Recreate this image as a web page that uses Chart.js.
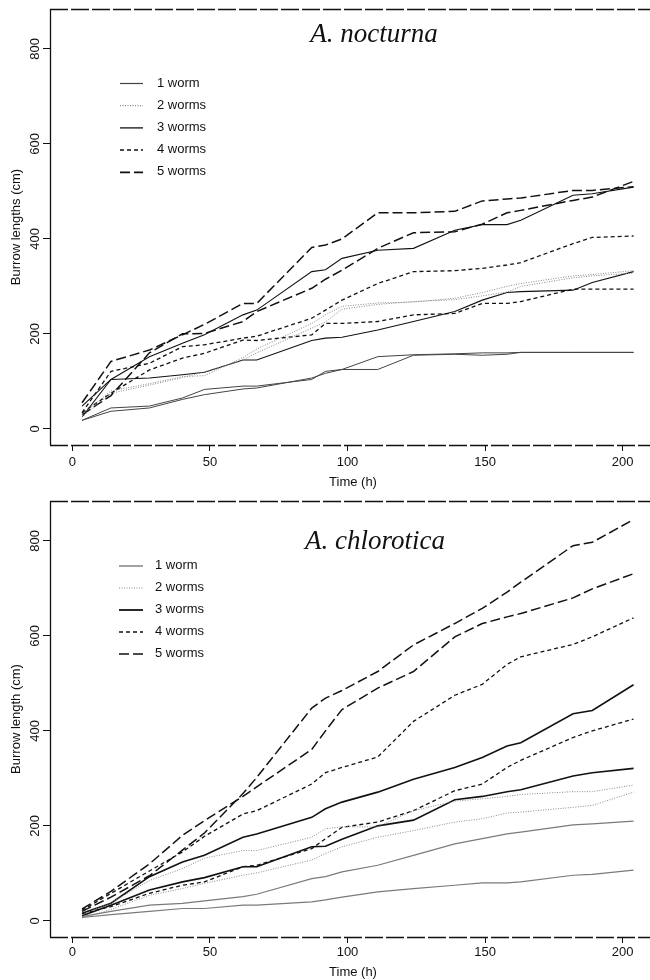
<!DOCTYPE html>
<html><head><meta charset="utf-8">
<script src="https://cdn.jsdelivr.net/npm/chart.js@4"></script>
<style>
html,body{margin:0;padding:0;background:#fff;overflow:hidden;width:650px;height:980px;position:relative}
.wrap{position:absolute;left:0;width:660px;height:490px}
</style></head><body>
<div class="wrap" style="top:0"><canvas id="c1" width="660" height="490"></canvas></div>
<div class="wrap" style="top:490px"><canvas id="c2" width="660" height="490"></canvas></div>
<script>
// ---- data ----
const timeH = [3.5,14,28,40,48,62,67,87,92,98,111,124,139,149,158,163,182,189,204];
const xTicks = [0,50,100,150,200];
const yTicks = [0,200,400,600,800];
const legendLabels = ['1 worm','2 worms','3 worms','4 worms','5 worms'];

// A. nocturna
const noc_1w_a = [18,44,48,65,83,90,90,104,121,125,125,155,157,155,157,161,161,161,161];
const noc_1w_b = [18,37,44,62,72,84,86,107,117,125,152,156,158,160,160,161,161,161,161];
const noc_2w_a = [30,80,95,110,112,150,168,222,240,258,265,267,275,287,300,306,322,325,333];
const noc_2w_b = [25,75,92,108,120,145,160,212,225,252,262,268,272,280,288,300,318,322,328];
const noc_3w_a = [25,104,107,114,119,145,145,186,191,193,208,226,247,271,287,289,292,308,331];
const noc_3w_b = [48,104,152,180,198,240,250,331,335,359,376,380,418,430,430,439,492,495,509];
const noc_4w_a = [34,121,138,173,177,191,195,233,250,271,306,331,333,338,345,350,390,403,406];
const noc_4w_b = [34,75,124,149,159,187,186,198,222,222,226,240,243,264,264,268,294,294,294];
const noc_5w_a = [55,142,166,198,220,264,264,382,387,400,455,455,458,480,484,486,502,502,510];
const noc_5w_b = [30,70,160,200,201,226,247,296,315,334,380,413,415,431,455,460,481,488,521];

// A. chlorotica
const chl_1w_a = [7,13,20,26,26,33,33,40,44,50,61,68,75,80,80,82,96,98,107];
const chl_1w_b = [9,20,33,37,42,51,56,89,93,103,117,138,162,173,183,187,202,204,210];
const chl_2w_a = [13,38,85,110,132,148,148,176,194,198,198,232,252,257,262,266,272,272,286];
const chl_2w_b = [6,24,54,68,79,96,101,128,142,156,176,190,208,215,227,229,239,243,271];
const chl_3w_a = [16,37,93,124,138,176,183,218,236,250,271,298,323,344,368,375,436,443,497];
const chl_3w_b = [11,33,65,82,91,114,114,156,157,172,200,212,255,262,272,276,305,312,321];
const chl_4w_a = [22,58,105,145,178,225,232,288,312,323,345,420,475,498,540,556,582,598,638];
const chl_4w_b = [15,30,58,75,82,114,117,152,173,197,208,232,274,288,323,338,386,400,425];
const chl_5w_a = [20,50,95,149,185,268,302,448,469,485,525,581,626,658,692,713,790,797,845];
const chl_5w_b = [25,62,120,180,211,262,282,361,400,445,490,525,598,626,640,647,680,699,731];

// ---- styles ----
const stylesNoc = [
  {color:'#444', width:1, dash:[]},
  {color:'#888', width:1, dash:[1,1.5]},
  {color:'#111', width:1.1, dash:[]},
  {color:'#111', width:1.3, dash:[4,3]},
  {color:'#111', width:1.5, dash:[10,4]}
];
const stylesChl = [
  {color:'#7a7a7a', width:1.2, dash:[]},
  {color:'#8a8a8a', width:1, dash:[1,1.5]},
  {color:'#111', width:1.6, dash:[]},
  {color:'#111', width:1.3, dash:[4,3]},
  {color:'#111', width:1.5, dash:[10,4]}
];

const FONT = "'Liberation Sans', Arial, sans-serif";

function makeChart(id, title, yTitle, groups, styles, opts) {
  const datasets = [];
  groups.forEach((pair, gi) => {
    pair.forEach(vals => {
      const s = styles[gi];
      datasets.push({
        label: legendLabels[gi],
        data: timeH.map((t, i) => ({x: t, y: vals[i]})),
        borderColor: s.color, borderWidth: s.width, borderDash: s.dash,
        pointRadius: 0, tension: 0, fill: false
      });
    });
  });
  const decor = {
    id: 'decor',
    afterDraw(chart) {
      const ctx = chart.ctx, a = chart.chartArea, ys = chart.scales.y;
      ctx.save();
      // frame
      ctx.strokeStyle = '#111'; ctx.lineWidth = 1.3;
      ctx.setLineDash([18, 3]);
      ctx.beginPath(); ctx.moveTo(a.left, a.top + 0.5); ctx.lineTo(a.right, a.top + 0.5); ctx.stroke();
      ctx.beginPath(); ctx.moveTo(a.left, a.bottom + 0.5); ctx.lineTo(a.right, a.bottom + 0.5); ctx.stroke();
      ctx.setLineDash([]);
      ctx.beginPath(); ctx.moveTo(a.left + 0.5, a.top); ctx.lineTo(a.left + 0.5, a.bottom); ctx.stroke();
      // rotated y tick labels
      ctx.fillStyle = '#111';
      ctx.font = '13px ' + FONT;
      ctx.textAlign = 'center'; ctx.textBaseline = 'middle';
      yTicks.forEach(v => {
        const py = ys.getPixelForValue(v);
        ctx.save(); ctx.translate(opts.yLabelX, py); ctx.rotate(-Math.PI / 2);
        ctx.fillText(String(v), 0, 0); ctx.restore();
      });
      // title
      ctx.font = 'italic 27px "Liberation Serif", "Times New Roman", serif';
      ctx.textAlign = 'center'; ctx.textBaseline = 'middle';
      ctx.fillText(title, opts.titleX, opts.titleY);
      // legend
      ctx.font = '13px ' + FONT;
      ctx.textAlign = 'left';
      legendLabels.forEach((lab, i) => {
        const s = styles[i];
        const y = opts.legY + i * opts.legStep;
        ctx.strokeStyle = s.color; ctx.lineWidth = s.width + 0.2; ctx.setLineDash(s.dash);
        ctx.beginPath(); ctx.moveTo(opts.legX0, y + 0.5); ctx.lineTo(opts.legX1, y + 0.5); ctx.stroke();
        ctx.setLineDash([]);
        ctx.fillStyle = '#111';
        ctx.fillText(lab, opts.legTextX, y);
      });
      ctx.restore();
    }
  };
  return new Chart(document.getElementById(id), {
    type: 'line',
    data: {datasets},
    options: {
      responsive: false, animation: false,
      layout: {padding: {top: opts.padTop, right: 4, left: 0, bottom: 0}},
      plugins: {legend: {display: false}, tooltip: {enabled: false}, title: {display: false}},
      scales: {
        x: {
          type: 'linear', min: -8.16, max: 212.16,
          afterBuildTicks: s => { s.ticks = xTicks.map(v => ({value: v})); },
          afterFit: s => { s.height = opts.xH; },
          grid: {display: true, drawOnChartArea: false, drawTicks: true, tickLength: 6, color: '#111', lineWidth: 1},
          border: {display: false},
          ticks: {color: '#111', font: {family: FONT, size: 13}, padding: opts.xPad, maxRotation: 0, autoSkip: false},
          title: {display: true, text: 'Time (h)', color: '#111', font: {family: FONT, size: 13}, padding: {top: 0, bottom: 0}}
        },
        y: {
          type: 'linear', min: -34, max: 884,
          afterBuildTicks: s => { s.ticks = yTicks.map(v => ({value: v})); },
          afterFit: s => { s.width = 50; },
          grid: {display: true, drawOnChartArea: false, drawTicks: true, tickLength: 7, color: '#111', lineWidth: 1},
          border: {display: false},
          ticks: {display: false},
          title: {display: true, text: yTitle, color: '#111', font: {family: FONT, size: 13}, padding: {top: 9, bottom: 0}}
        }
      }
    },
    plugins: [decor]
  });
}

makeChart('c1', 'A. nocturna', 'Burrow lengths (cm)',
  [[noc_1w_a, noc_1w_b], [noc_2w_a, noc_2w_b], [noc_3w_a, noc_3w_b], [noc_4w_a, noc_4w_b], [noc_5w_a, noc_5w_b]],
  stylesNoc,
  {padTop: 9, xH: 45, xPad: 4, yLabelX: 35, titleX: 374, titleY: 35, legY: 83, legStep: 22.2, legX0: 120, legX1: 143, legTextX: 157});

makeChart('c2', 'A. chlorotica', 'Burrow length (cm)',
  [[chl_1w_a, chl_1w_b], [chl_2w_a, chl_2w_b], [chl_3w_a, chl_3w_b], [chl_4w_a, chl_4w_b], [chl_5w_a, chl_5w_b]],
  stylesChl,
  {padTop: 11, xH: 43, xPad: 2, yLabelX: 35, titleX: 375, titleY: 52, legY: 75.5, legStep: 22, legX0: 119, legX1: 143, legTextX: 155});
</script>
</body></html>
